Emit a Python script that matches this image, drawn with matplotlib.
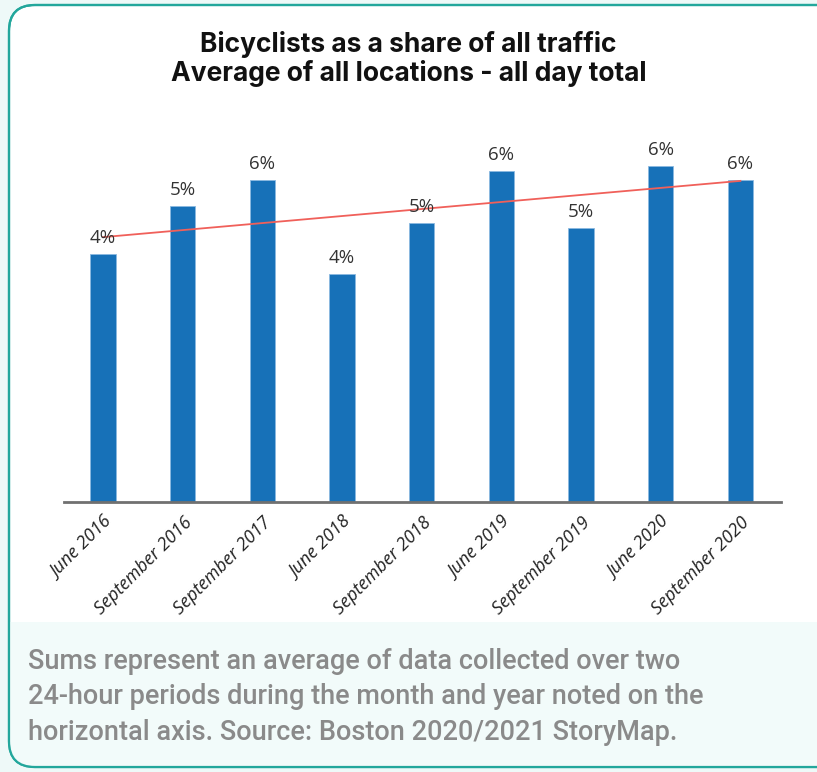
import matplotlib.pyplot as plt
import numpy as np
from matplotlib.patches import FancyBboxPatch, Rectangle

# share of bicyclists in all traffic, in percent
periods = ["June 2016", "September 2016", "September 2017", "June 2018",
           "September 2018", "June 2019", "September 2019", "June 2020",
           "September 2020"]
share = [4.35, 5.2, 5.65, 4.0, 4.9, 5.8, 4.8, 5.9, 5.65]

title = "Bicyclists as a share of all traffic\nAverage of all locations - all day total"
caption = ("Sums represent an average of data collected over two\n"
           "24-hour periods during the month and year noted on the\n"
           "horizontal axis. Source: Boston 2020/2021 StoryMap.")

W, H = 817, 772
fig = plt.figure(figsize=(W / 100, H / 100), dpi=100)
fig.patch.set_facecolor("#eef9f8")

# card background drawn in pixel coordinates
bg = fig.add_axes([0, 0, 1, 1], zorder=0)
bg.set_xlim(0, W)
bg.set_ylim(H, 0)
bg.axis("off")
card = FancyBboxPatch((9, 5), 850, 762, boxstyle="round,pad=0,rounding_size=26",
                      facecolor="white", edgecolor="#23a79c", linewidth=1.6)
bg.add_patch(card)
band = Rectangle((0, 622), W + 60, 160, facecolor="#f2fbfa", edgecolor="none")
bg.add_patch(band)
band.set_clip_path(card)
bg.add_patch(FancyBboxPatch((9, 5), 850, 762, boxstyle="round,pad=0,rounding_size=26",
                            facecolor="none", edgecolor="#23a79c", linewidth=1.6))

bg.text(W / 2, 59, title, ha="center", va="center", fontsize=19,
        fontweight="bold", family="Inter", color="#111111", linespacing=1.1)
bg.text(28, 697, caption, ha="left", va="center", fontsize=19.5,
        family="Roboto", fontweight="medium", color="#8a8a8a", linespacing=1.4)

# bar chart
ax = fig.add_axes([64 / W, (H - 502) / H, (781 - 64) / W, (502 - 120) / H], zorder=1)
ax.patch.set_alpha(0)
x = np.arange(len(periods))
ax.bar(x, share, width=0.32, color="#1771b8", edgecolor="#8bb9e0", linewidth=0.6)
for xi, v in zip(x, share):
    ax.text(xi, v + 0.12, f"{round(v):.0f}%", ha="center", va="bottom",
            fontsize=13.5, family="Open Sans", color="#333333")

# linear trend across all periods
k, b = np.polyfit(x, share, 1)
ax.plot(x[[0, -1]], k * x[[0, -1]] + b, color="#f0605a", linewidth=1.3)

ax.set_xlim(-0.49, 8.51)
ax.set_ylim(0, 6.7)
ax.set_yticks([])
for s in ["top", "right", "left"]:
    ax.spines[s].set_visible(False)
ax.spines["bottom"].set_color("#707070")
ax.spines["bottom"].set_linewidth(2)
ax.set_xticks(x)
ax.set_xticklabels(periods, rotation=45, ha="right", rotation_mode="anchor",
                   fontsize=13, family="Open Sans", style="italic", color="#222222")
ax.tick_params(axis="x", length=0, pad=8)

fig.savefig("out.png", dpi=100, facecolor=fig.get_facecolor())
